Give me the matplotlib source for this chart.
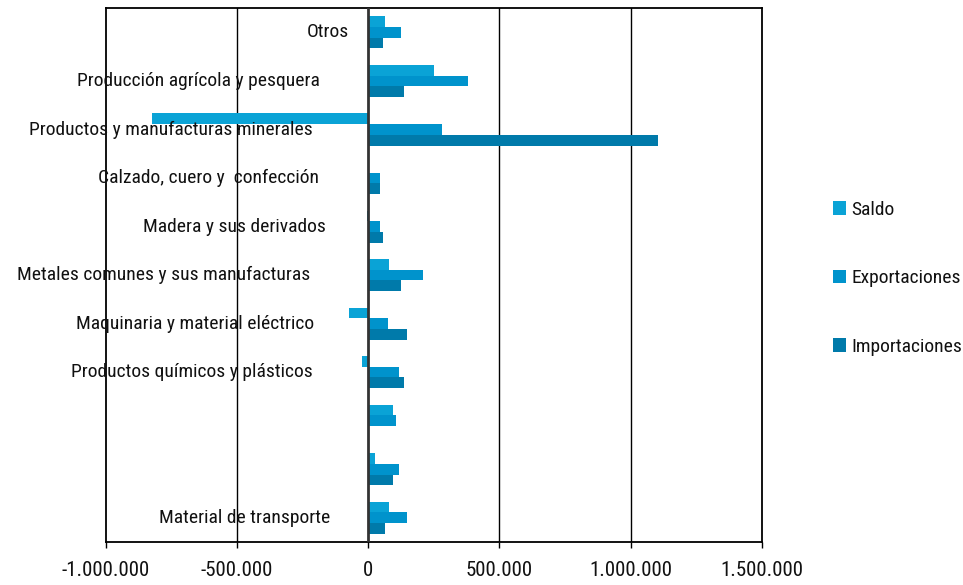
import matplotlib
matplotlib.use("Agg")
import matplotlib.pyplot as plt
from matplotlib import font_manager
from matplotlib.ticker import FuncFormatter, FixedLocator

# buscar una fuente estrecha instalada
nombres = set(f.name for f in font_manager.fontManager.ttflist)
estrecha = None
for n in ['Liberation Sans Narrow', 'Arial Narrow', 'Roboto Condensed', 'Open Sans Condensed']:
    if n in nombres:
        estrecha = n
        break
if estrecha is None:
    for f in font_manager.fontManager.ttflist:
        if 'Condensed' in f.fname and 'DejaVuSans' in f.fname:
            font_manager.fontManager.addfont(f.fname)
            estrecha = f.name
            plt.rcParams['font.stretch'] = 'condensed'
            break
if estrecha is None:
    estrecha = 'DejaVu Sans'
plt.rcParams['font.family'] = [estrecha, 'DejaVu Sans']

categorias = ["Otros",
              "Producción agrícola y pesquera",
              "Productos y manufacturas minerales",
              "Calzado, cuero y  confección",
              "Madera y sus derivados",
              "Metales comunes y sus manufacturas",
              "Maquinaria y material eléctrico",
              "Productos químicos y plásticos",
              "",
              "",
              "Material de transporte"]

saldo = [65000, 250000, -823000, 0, -3000, 80000, -75000, -22000, 95000, 25000, 80000]
exportaciones = [126000, 381000, 282000, 46000, 46000, 210000, 76000, 118000, 105000, 118000, 149000]
importaciones = [57000, 137000, 1105000, 46000, 57000, 126000, 149000, 137000, 3000, 95000, 65000]

# donde termina cada etiqueta (a la izquierda del cero)
fin_etiqueta = [-72000, -183000, -210000, -187000, -160000, -221000, -206000, -210000, 0, 0, -145000]

ticks_x = [-1000000, -500000, 0, 500000, 1000000, 1500000]

c_saldo = '#0aa3d6'
c_exp = '#0093cc'
c_imp = '#007aaa'

fig = plt.figure(figsize=(9.63, 5.85), dpi=100)
ax = fig.add_axes([0.110, 0.0735, 0.681, 0.9125])

y = list(range(len(categorias)))
h = 0.22
ax.barh([i - h for i in y], saldo, height=h, color=c_saldo, label='Saldo', zorder=2)
ax.barh(y, exportaciones, height=h, color=c_exp, label='Exportaciones', zorder=2)
ax.barh([i + h for i in y], importaciones, height=h, color=c_imp, label='Importaciones', zorder=2)

ax.set_xlim(-1000000, 1500000)
ax.set_ylim(10.5, -0.5)
ax.xaxis.set_major_locator(FixedLocator(ticks_x))
ax.xaxis.set_major_formatter(FuncFormatter(lambda v, p: '{:,.0f}'.format(v).replace(',', '.')))
ax.tick_params(axis='x', labelsize=15, length=4, width=1, direction='out', pad=10, labelcolor='#111111')
ax.set_yticks([])

for t in [-500000, 500000, 1000000]:
    ax.axvline(t, color='black', lw=1, zorder=1)
ax.axvline(0, color='#333333', lw=2, zorder=3)

for s in ax.spines.values():
    s.set_color('black')
    s.set_linewidth(1.3)

for i, lab in enumerate(categorias):
    if lab:
        ax.text(fin_etiqueta[i], i, lab, ha='right', va='center', fontsize=14, color='#111111', zorder=4)

ax.legend(loc='center left', bbox_to_anchor=(1.108, 0.494), frameon=False, fontsize=14,
          handlelength=0.7, handleheight=0.7, handletextpad=0.25, labelspacing=2.6,
          borderpad=0, borderaxespad=0, labelcolor='#111111')

fig.savefig('out.png', dpi=100)
